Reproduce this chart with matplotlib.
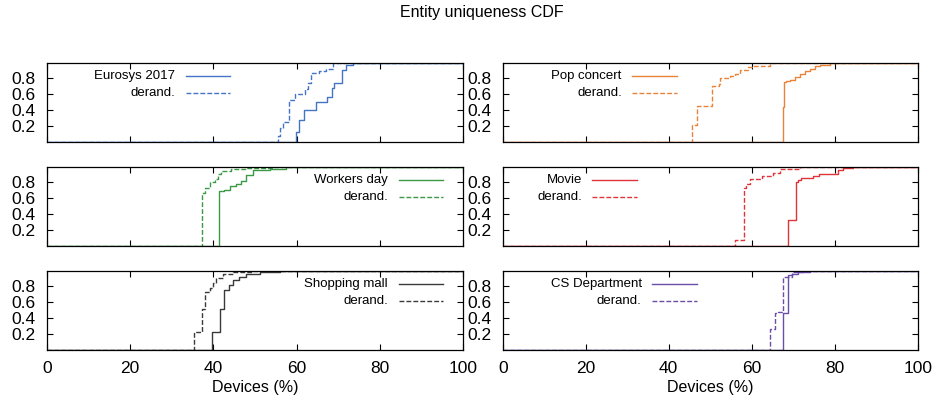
"""Entity uniqueness CDF: six venues, original vs derandomised MACs."""

import matplotlib

matplotlib.use("Agg")
import matplotlib.pyplot as plt

plt.rcParams["font.family"] = ["Liberation Sans", "DejaVu Sans"]
plt.rcParams["font.size"] = 11.5

# CDF step points: x = devices (%) where the CDF jumps, y = value after the jump
eurosys_x = [59.9, 60.6, 61.7, 64.6, 67.3, 68.4, 69.1, 71.0, 71.8, 73.6]
eurosys_y = [0.13, 0.28, 0.40, 0.50, 0.57, 0.68, 0.74, 0.90, 0.97, 1.0]
eurosys_d_x = [55.6, 56.1, 56.7, 58.2, 59.5, 61.9, 62.7, 63.5, 65.5, 67.0, 68.8, 73.6]
eurosys_d_y = [0.07, 0.17, 0.25, 0.53, 0.61, 0.67, 0.74, 0.87, 0.89, 0.92, 0.99, 1.0]

pop_x = [67.5, 67.8, 68.3, 69.2, 70.5, 71.6, 72.9, 74.1, 75.3, 76.5, 78.9]
pop_y = [0.44, 0.75, 0.77, 0.78, 0.82, 0.85, 0.89, 0.92, 0.95, 0.97, 1.0]
pop_d_x = [45.6, 46.1, 46.9, 50.4, 52.0, 52.3, 54.8, 56.0, 57.2, 59.2, 60.4, 64.4, 69.2]
pop_d_y = [0.21, 0.22, 0.455, 0.70, 0.73, 0.80, 0.83, 0.85, 0.90, 0.94, 0.96, 0.99, 1.0]

workers_x = [41.3, 42.5, 44.1, 45.4, 46.7, 47.8, 49.4, 53.5, 57.5]
workers_y = [0.69, 0.71, 0.75, 0.78, 0.82, 0.89, 0.95, 0.965, 1.0]
workers_d_x = [37.3, 37.9, 39.1, 40.3, 41.1, 41.9, 44.3, 47.9, 54.3]
workers_d_y = [0.67, 0.73, 0.80, 0.84, 0.91, 0.94, 0.965, 0.985, 1.0]

movie_x = [68.8, 70.7, 71.2, 71.8, 74.7, 76.3, 80.9, 82.1, 84.5]
movie_y = [0.33, 0.81, 0.83, 0.86, 0.88, 0.91, 0.95, 0.98, 1.0]
movie_d_x = [56.0, 58.2, 58.6, 59.6, 62.4, 65.2, 66.7, 71.6, 80.5]
movie_d_y = [0.07, 0.73, 0.78, 0.84, 0.88, 0.92, 0.97, 0.99, 1.0]

mall_x = [39.7, 41.5, 42.5, 43.8, 44.7, 46.2, 47.9, 51.1, 55.9]
mall_y = [0.23, 0.52, 0.76, 0.82, 0.88, 0.92, 0.95, 0.98, 1.0]
mall_d_x = [35.3, 37.2, 38.0, 39.3, 39.9, 40.7, 42.3, 44.7, 49.5]
mall_d_y = [0.23, 0.51, 0.73, 0.78, 0.84, 0.91, 0.95, 0.98, 1.0]

cs_x = [67.5, 68.7, 69.6, 71.2, 74.1]
cs_y = [0.46, 0.94, 0.96, 0.98, 1.0]
cs_d_x = [64.3, 65.6, 66.4, 67.5, 69.6, 72.4]
cs_d_y = [0.26, 0.46, 0.48, 0.92, 0.98, 1.0]

panels = [
    ("Eurosys 2017", eurosys_x, eurosys_y, eurosys_d_x, eurosys_d_y),
    ("Pop concert", pop_x, pop_y, pop_d_x, pop_d_y),
    ("Workers day", workers_x, workers_y, workers_d_x, workers_d_y),
    ("Movie", movie_x, movie_y, movie_d_x, movie_d_y),
    ("Shopping mall", mall_x, mall_y, mall_d_x, mall_d_y),
    ("CS Department", cs_x, cs_y, cs_d_x, cs_d_y),
]
colors = ["#4474c6", "#e8843a", "#3a9a45", "#e0333a", "#3a3a3a", "#6a4ea8"]
# legend: right edge of label text (axes fraction)
legend_text_x = [0.308, 0.287, 0.82, 0.191, 0.82, 0.335]

x_ticks = [0, 20, 40, 60, 80, 100]
y_ticks = [0.2, 0.4, 0.6, 0.8]

DASH = (0, (3.5, 1.5))

fig = plt.figure(figsize=(9.35, 4.05), dpi=100)
col_left = [47 / 935, 502.7 / 935]
col_width = [416 / 935, 415 / 935]
row_bottom = [1 - 142 / 405, 1 - 246 / 405, 1 - 350 / 405]
row_height = 79.5 / 405

for i, (name, sx, sy, dx, dy) in enumerate(panels):
    row, col = divmod(i, 2)
    ax = fig.add_axes([col_left[col], row_bottom[row], col_width[col], row_height])
    color = colors[i]

    ax.step([0] + dx + [100], [0] + dy + [1.0], where="post", color=color,
            lw=1.0, linestyle=DASH)
    ax.step([0] + sx + [100], [0] + sy + [1.0], where="post", color=color, lw=1.0)

    ax.set_xlim(0, 100)
    ax.set_ylim(0, 1.0)
    ax.set_xticks(x_ticks)
    ax.set_yticks(y_ticks)
    ax.set_yticklabels([f"{v:.1f}" for v in y_ticks])
    ax.tick_params(direction="in", length=4, width=0.8, top=True, right=True,
                   pad=8, labelsize=12.5)
    ax.tick_params(axis="x", pad=8)
    if row < 2:
        ax.set_xticklabels([])
    else:
        ax.set_xlabel("Devices (%)", labelpad=3)
    for spine in ax.spines.values():
        spine.set_linewidth(0.9)

    # gnuplot-style key: right-aligned label, sample line to its right
    tx = legend_text_x[i]
    for ty, label, ls in [(0.835, name, "-"), (0.62, "derand.", DASH)]:
        ax.text(tx, ty, label, transform=ax.transAxes, ha="right", va="center",
                fontsize=9.5)
        ax.plot([tx + 0.025, tx + 0.133], [ty, ty], transform=ax.transAxes,
                color=color, lw=1.0, linestyle=ls)

fig.text(482 / 935, 1 - 12 / 405, "Entity uniqueness CDF", ha="center", va="center")

fig.savefig("out.png", dpi=100)
